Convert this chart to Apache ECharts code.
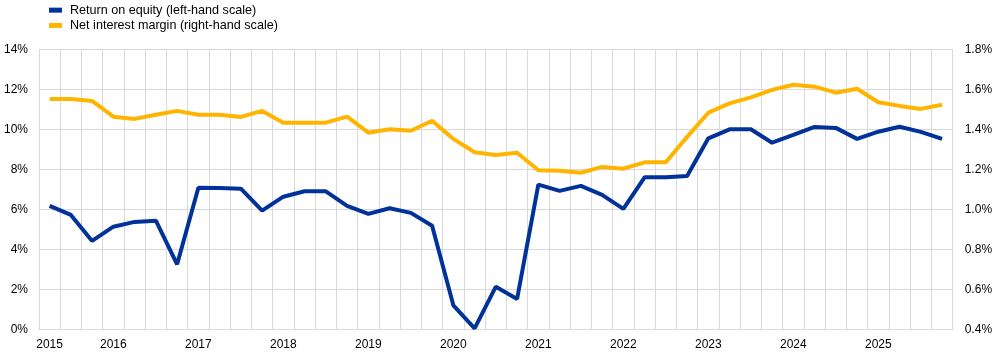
<!DOCTYPE html>
<html>
<head>
<meta charset="utf-8">
<script src="https://cdn.jsdelivr.net/npm/echarts@6/dist/echarts.min.js"></script>
<style>
html,body{margin:0;padding:0;background:#fff;}
#chart{width:1006px;height:356px;}
</style>
</head>
<body>
<div id="chart"></div>
<script>
// Quarterly categories (43 quarters)
const quarters = [];
for (let y = 2015; y <= 2025; y++) {
  for (let q = 1; q <= 4; q++) {
    if (quarters.length < 43) quarters.push(y + ' Q' + q);
  }
}
// Tick labels shown on the x axis (index in quarters -> text)
const tickIndex = [0, 3, 7, 11, 15, 19, 23, 27, 31, 35, 39];
const tickText = ['2015', '2016', '2017', '2018', '2019', '2020', '2021', '2022', '2023', '2024', '2025'];

// Return on equity (%), left-hand scale
const roe = [6.17, 5.72, 4.42, 5.13, 5.37, 5.43, 3.25, 7.08, 7.07, 7.03,
             5.93, 6.63, 6.90, 6.90, 6.17, 5.77, 6.05, 5.82, 5.18, 1.20,
             0.05, 2.13, 1.52, 7.23, 6.92, 7.17, 6.72, 6.02, 7.60, 7.60,
             7.67, 9.55, 10.00, 10.00, 9.33, 9.72, 10.12, 10.07, 9.52, 9.88,
             10.13, 9.87, 9.52];
// Net interest margin (%), right-hand scale
const nim = [1.552, 1.552, 1.542, 1.463, 1.452, 1.473, 1.492, 1.473, 1.473, 1.462,
             1.492, 1.433, 1.433, 1.433, 1.463, 1.383, 1.400, 1.393, 1.443, 1.352,
             1.285, 1.272, 1.283, 1.195, 1.193, 1.183, 1.212, 1.203, 1.235, 1.235,
             1.362, 1.483, 1.530, 1.560, 1.597, 1.623, 1.613, 1.583, 1.603, 1.535,
             1.517, 1.502, 1.523];

const seriesNames = ['Return on equity (left-hand scale)', 'Net interest margin (right-hand scale)'];
const colors = ['#003299', '#FFB400'];
const gridColor = '#d9d9d9';
const font = 'Arial, "Liberation Sans", sans-serif';

const chart = echarts.init(document.getElementById('chart'), null, {renderer: 'canvas'});
chart.setOption({
  animation: false,
  color: colors,
  textStyle: {fontFamily: font},
  legend: {
    orient: 'vertical',
    left: 44,
    top: -2,
    itemWidth: 13,
    itemHeight: 5,
    itemGap: 1,
    icon: 'rect',
    textStyle: {fontFamily: font, fontSize: 12.6, color: '#000', lineHeight: 14.3, padding: [0, 0, 0, 3]},
    data: seriesNames
  },
  grid: {left: 39, right: 53.3, top: 49.3, bottom: 26.7, containLabel: false},
  xAxis: {
    type: 'category',
    data: quarters,
    boundaryGap: true,
    axisLine: {show: true, lineStyle: {color: gridColor, width: 1}},
    axisTick: {show: false},
    splitLine: {show: true, interval: 0, lineStyle: {color: gridColor, width: 1}},
    axisLabel: {
      interval: function (idx) { return tickIndex.indexOf(idx) >= 0; },
      formatter: function (v, idx) { const k = tickIndex.indexOf(idx); return k >= 0 ? tickText[k] : ''; },
      color: '#000', fontSize: 12, fontFamily: font, margin: 9
    }
  },
  yAxis: [{
    type: 'value', min: 0, max: 14, interval: 2,
    axisLine: {show: false}, axisTick: {show: false},
    splitLine: {show: true, lineStyle: {color: gridColor, width: 1}},
    axisLabel: {formatter: '{value}%', color: '#000', fontSize: 12, fontFamily: font, margin: 11}
  }, {
    type: 'value', min: 0.4, max: 1.8, interval: 0.2,
    axisLine: {show: false}, axisTick: {show: false},
    splitLine: {show: false},
    axisLabel: {formatter: function (v) { return v.toFixed(1) + '%'; }, color: '#000', fontSize: 12, fontFamily: font, margin: 12}
  }],
  series: [{
    name: seriesNames[0], type: 'line', yAxisIndex: 0, data: roe,
    symbol: 'none', lineStyle: {width: 4, color: colors[0]}, z: 3
  }, {
    name: seriesNames[1], type: 'line', yAxisIndex: 1, data: nim,
    symbol: 'none', lineStyle: {width: 4, color: colors[1]}, z: 2
  }]
});
</script>
</body>
</html>
